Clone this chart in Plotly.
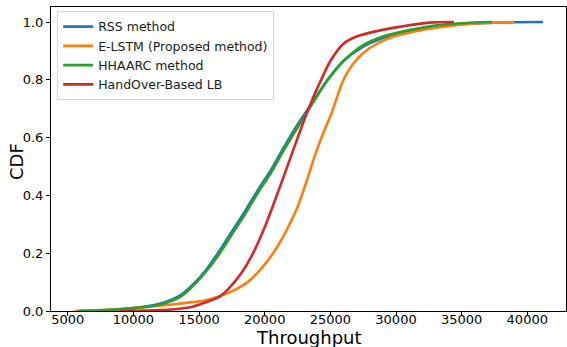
import plotly.graph_objects as go

# CDF of throughput for each load-balancing method
rss_x = [5800, 8000, 10000, 12000, 13600, 14500, 15500, 16500, 17500, 18500, 19500,
         20500, 21500, 22500, 23600, 24800, 26000, 27500, 29000, 31000, 33000, 35000,
         37000, 39000, 41200]
rss_y = [0, 0.003, 0.010, 0.025, 0.055, 0.09, 0.14, 0.205, 0.275, 0.345, 0.42,
         0.49, 0.57, 0.645, 0.72, 0.80, 0.865, 0.915, 0.945, 0.97, 0.985, 0.993,
         0.997, 0.999, 1.0]

elstm_x = [5500, 8000, 10000, 12000, 14000, 15500, 16500, 17500, 18700, 19800, 21000,
           22000, 22500, 23200, 23800, 24500, 25100, 26000, 27000, 28000, 29500, 31500,
           33500, 36000, 39000]
elstm_y = [0, 0.004, 0.01, 0.018, 0.028, 0.037, 0.05, 0.068, 0.1, 0.15, 0.225,
           0.31, 0.36, 0.45, 0.535, 0.62, 0.685, 0.80, 0.87, 0.91, 0.945, 0.968,
           0.983, 0.995, 1.0]

hhaarc_x = [5800, 8000, 10000, 12000, 13600, 14500, 15500, 16500, 17500, 18500, 19500,
            20500, 21500, 22500, 23600, 24800, 26000, 27500, 29000, 31000, 33000, 35000,
            37300]
hhaarc_y = [0, 0.003, 0.010, 0.022, 0.05, 0.085, 0.135, 0.195, 0.265, 0.335, 0.41,
            0.48, 0.56, 0.635, 0.715, 0.80, 0.865, 0.92, 0.95, 0.972, 0.988, 0.996,
            1.0]

ho_x = [9000, 12000, 13500, 14500, 15500, 16500, 17200, 18200, 19000, 20000, 21000,
        22000, 23000, 23700, 24300, 25000, 26000, 27000, 28500, 30500, 32500, 34400]
ho_y = [0, 0.003, 0.008, 0.015, 0.03, 0.048, 0.075, 0.13, 0.19, 0.29, 0.41,
        0.535, 0.66, 0.74, 0.80, 0.865, 0.925, 0.95, 0.968, 0.985, 0.998, 1.0]

series = [
    ("RSS method", rss_x, rss_y, "#1f77b4"),
    ("E-LSTM (Proposed method)", elstm_x, elstm_y, "#ff7f0e"),
    ("HHAARC method", hhaarc_x, hhaarc_y, "#2ca02c"),
    ("HandOver-Based LB", ho_x, ho_y, "#d62728"),
]

x_ticks = [5000, 10000, 15000, 20000, 25000, 30000, 35000, 40000]
y_ticks = [0.0, 0.2, 0.4, 0.6, 0.8, 1.0]

fig = go.Figure()
for name, xs, ys, color in series:
    fig.add_trace(go.Scatter(
        x=xs, y=ys, name=name, mode="lines",
        line=dict(color=color, width=2.6, shape="spline", smoothing=0.8),
    ))

font_family = "DejaVu Sans, sans-serif"
fig.update_layout(
    width=567, height=347,
    margin=dict(l=51, r=1, t=7, b=36, autoexpand=False),
    paper_bgcolor="white", plot_bgcolor="white",
    font=dict(family=font_family, color="black", size=13),
    showlegend=True,
    legend=dict(
        x=0.012, y=0.987, xanchor="left", yanchor="top",
        bgcolor="rgba(255,255,255,0.8)", bordercolor="#d6d6d6", borderwidth=1,
        font=dict(size=12.5, family=font_family, color="#1a1a1a"),
        tracegroupgap=0, itemwidth=30,
    ),
    xaxis=dict(
        range=[3720, 42950], tickvals=x_ticks, ticktext=[str(v) for v in x_ticks],
        showgrid=False, zeroline=False, showline=True, mirror=True,
        linecolor="black", linewidth=1, ticks="outside", ticklen=4,
        tickcolor="black", tickfont=dict(size=13), automargin=False,
        ticklabelstandoff=-8,
    ),
    yaxis=dict(
        range=[0, 1.052], tickvals=y_ticks, ticktext=[f"{v:.1f}" for v in y_ticks],
        showgrid=False, zeroline=False, showline=True, mirror=True,
        linecolor="black", linewidth=1, ticks="outside", ticklen=4,
        tickcolor="black", tickfont=dict(size=13), automargin=False,
    ),
    annotations=[
        dict(text="Throughput", xref="paper", yref="paper", x=0.5, y=0,
             xanchor="center", yanchor="middle", yshift=-26, showarrow=False,
             font=dict(size=18, family=font_family, color="black")),
        dict(text="CDF", xref="paper", yref="paper", x=0, y=0.5,
             xanchor="center", yanchor="middle", xshift=-35, yshift=-3,
             textangle=-90, showarrow=False,
             font=dict(size=18, family=font_family, color="black")),
    ],
)

fig.write_html("out.html")
